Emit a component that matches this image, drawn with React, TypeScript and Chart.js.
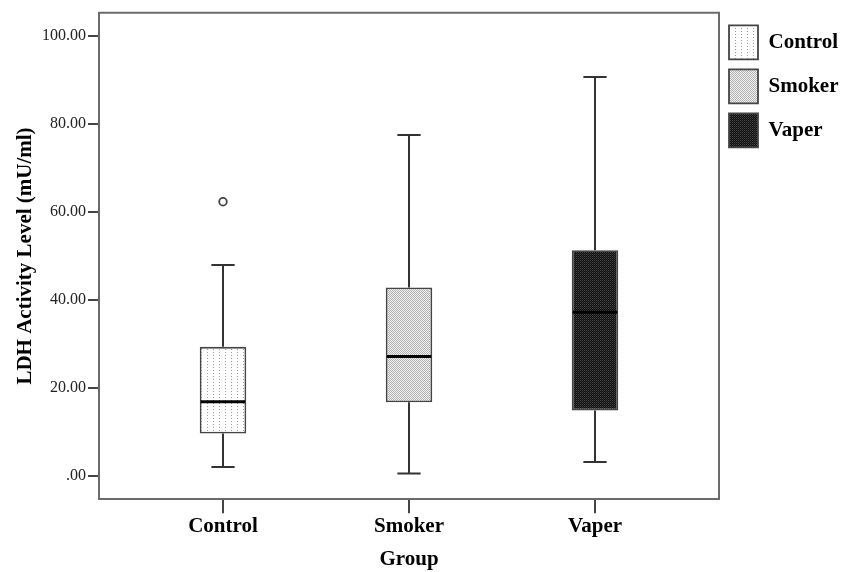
import React, { useEffect, useRef } from "react";
import { Chart, registerables } from "chart.js";

Chart.register(...registerables);

const categories = ["Control", "Smoker", "Vaper"];
const mins = [2.0, 0.5, 3.1];
const q1s = [9.6, 16.7, 14.8];
const medians = [16.8, 27.1, 37.2];
const q3s = [29.3, 42.8, 51.3];
const maxs = [47.9, 77.5, 90.7];
const outlierGroups = [0];
const outlierValues = [62.3];
const yTicks = [0, 20, 40, 60, 80, 100];
const xTicks = [0, 1, 2];

function makePattern(w: number, h: number, bg: string, dots: [number, number, string][]) {
  const c = document.createElement("canvas");
  c.width = w;
  c.height = h;
  const g = c.getContext("2d")!;
  g.fillStyle = bg;
  g.fillRect(0, 0, w, h);
  dots.forEach(([x, y, col]) => {
    g.fillStyle = col;
    g.fillRect(x, y, 1, 1);
  });
  return g.createPattern(c, "repeat")!;
}

const FONT = "'Liberation Serif', 'Times New Roman', serif";

export default function App() {
  const ref = useRef<HTMLCanvasElement | null>(null);

  useEffect(() => {
    document.body.style.margin = "0";
    const patterns = [
      makePattern(6, 3, "#ffffff", [[3, 1, "#9a9a9a"]]),
      makePattern(2, 2, "#f2f2f2", [[0, 0, "#b0b0b0"], [1, 1, "#b0b0b0"]]),
      makePattern(2, 2, "#101010", [[0, 0, "#484848"], [1, 1, "#2a2a2a"]]),
    ];

    const boxPlugin = {
      id: "boxWhiskers",
      afterDatasetsDraw(chart: any) {
        const ctx = chart.ctx;
        const xs = chart.scales.x;
        const ys = chart.scales.y;
        const meta = chart.getDatasetMeta(0);
        ctx.save();
        categories.forEach((_, i) => {
          const x = xs.getPixelForValue(i);
          const w = meta.data[i] ? meta.data[i].width : 46;
          const cap = w / 4;
          ctx.strokeStyle = "#333";
          ctx.lineWidth = 2;
          ctx.beginPath();
          ctx.moveTo(x, ys.getPixelForValue(q3s[i]));
          ctx.lineTo(x, ys.getPixelForValue(maxs[i]));
          ctx.moveTo(x - cap, ys.getPixelForValue(maxs[i]));
          ctx.lineTo(x + cap, ys.getPixelForValue(maxs[i]));
          ctx.moveTo(x, ys.getPixelForValue(q1s[i]));
          ctx.lineTo(x, ys.getPixelForValue(mins[i]));
          ctx.moveTo(x - cap, ys.getPixelForValue(mins[i]));
          ctx.lineTo(x + cap, ys.getPixelForValue(mins[i]));
          ctx.stroke();
          ctx.strokeStyle = "#000";
          ctx.lineWidth = 3;
          ctx.beginPath();
          const my = ys.getPixelForValue(medians[i]);
          ctx.moveTo(x - w / 2 + 1, my);
          ctx.lineTo(x + w / 2 - 1, my);
          ctx.stroke();
        });
        ctx.restore();
      },
      afterDraw(chart: any) {
        const { ctx, chartArea } = chart;
        ctx.save();
        ctx.strokeStyle = "#6b6b6b";
        ctx.lineWidth = 2;
        ctx.beginPath();
        ctx.moveTo(chartArea.left, chartArea.top);
        ctx.lineTo(chartArea.right, chartArea.top);
        ctx.lineTo(chartArea.right, chartArea.bottom);
        ctx.stroke();
        ctx.restore();
      },
    };

    const chart = new Chart(ref.current!, {
      type: "bar",
      data: {
        datasets: [
          {
            type: "bar",
            label: "box",
            data: categories.map((_, i) => ({ x: i, y: [q1s[i], q3s[i]] })) as any,
            backgroundColor: patterns as any,
            borderColor: "#444",
            borderWidth: 1.8,
            borderSkipped: false,
            barPercentage: 0.25,
            categoryPercentage: 1,
          } as any,
          {
            type: "scatter",
            label: "outliers",
            data: outlierGroups.map((g, k) => ({ x: g, y: outlierValues[k] })),
            pointRadius: 3.8,
            pointBorderWidth: 1.8,
            pointBorderColor: "#444",
            pointBackgroundColor: "#fff",
          } as any,
        ],
      },
      options: {
        animation: false,
        responsive: true,
        maintainAspectRatio: false,
        layout: { padding: { top: 12.7, left: 0, right: 0, bottom: 0 } },
        plugins: {
          tooltip: { enabled: false },
          legend: {
            position: "right",
            align: "start",
            maxWidth: 122,
            title: {
              display: true,
              text: " ",
              color: "#000",
              font: { size: 1 },
              padding: { top: 0, bottom: 1.5 },
            },
            labels: {
              boxWidth: 29,
              boxHeight: 34,
              padding: 10,
              color: "#000",
              font: { family: FONT, size: 21, weight: "bold" },
              generateLabels: () =>
                categories.map((c, i) => ({
                  text: c,
                  fillStyle: patterns[i] as any,
                  strokeStyle: "#444",
                  fontColor: "#000",
                  lineWidth: 1.8,
                  hidden: false,
                  datasetIndex: 0,
                  index: i,
                })),
            },
            onClick: () => {},
          },
        },
        scales: {
          x: {
            type: "linear",
            min: -2 / 3,
            max: 8 / 3,
            offset: false,
            afterBuildTicks: (s: any) => {
              s.ticks = xTicks.map((v) => ({ value: v }));
            },
            afterFit: (s: any) => {
              s.height = 72.7;
            },
            ticks: {
              color: "#000",
              padding: 1,
              maxRotation: 0,
              autoSkip: false,
              font: { family: FONT, size: 21, weight: "bold" },
              callback: (v: any) => categories[Math.round(Number(v))] ?? "",
            },
            grid: {
              display: true,
              offset: false,
              drawOnChartArea: false,
              drawTicks: true,
              tickLength: 14,
              color: "#444",
              lineWidth: 2,
            },
            border: { display: true, color: "#6b6b6b", width: 2 },
            title: {
              display: true,
              text: "Group",
              color: "#000",
              padding: { top: 4, bottom: 0 },
              font: { family: FONT, size: 21, weight: "bold" },
            },
          },
          y: {
            type: "linear",
            min: -5.37,
            max: 105.3,
            afterBuildTicks: (s: any) => {
              s.ticks = yTicks.map((v) => ({ value: v }));
            },
            afterFit: (s: any) => {
              s.width = 99;
            },
            ticks: {
              color: "#222",
              padding: 2,
              font: { family: FONT, size: 16 },
              callback: (v: any) => (Number(v) === 0 ? ".00" : Number(v).toFixed(2)),
            },
            grid: {
              display: true,
              drawOnChartArea: false,
              drawTicks: true,
              tickLength: 11,
              color: "#444",
              lineWidth: 2,
            },
            border: { display: true, color: "#6b6b6b", width: 2 },
            title: {
              display: true,
              text: "LDH Activity Level (mU/ml)",
              color: "#000",
              padding: { top: 13, bottom: 0 },
              font: { family: FONT, size: 21, weight: "bold" },
            },
          },
        },
      },
      plugins: [boxPlugin],
    });
    return () => chart.destroy();
  }, []);

  return (
    <div style={{ width: 841, height: 572, position: "relative" }}>
      <canvas ref={ref} />
    </div>
  );
}
